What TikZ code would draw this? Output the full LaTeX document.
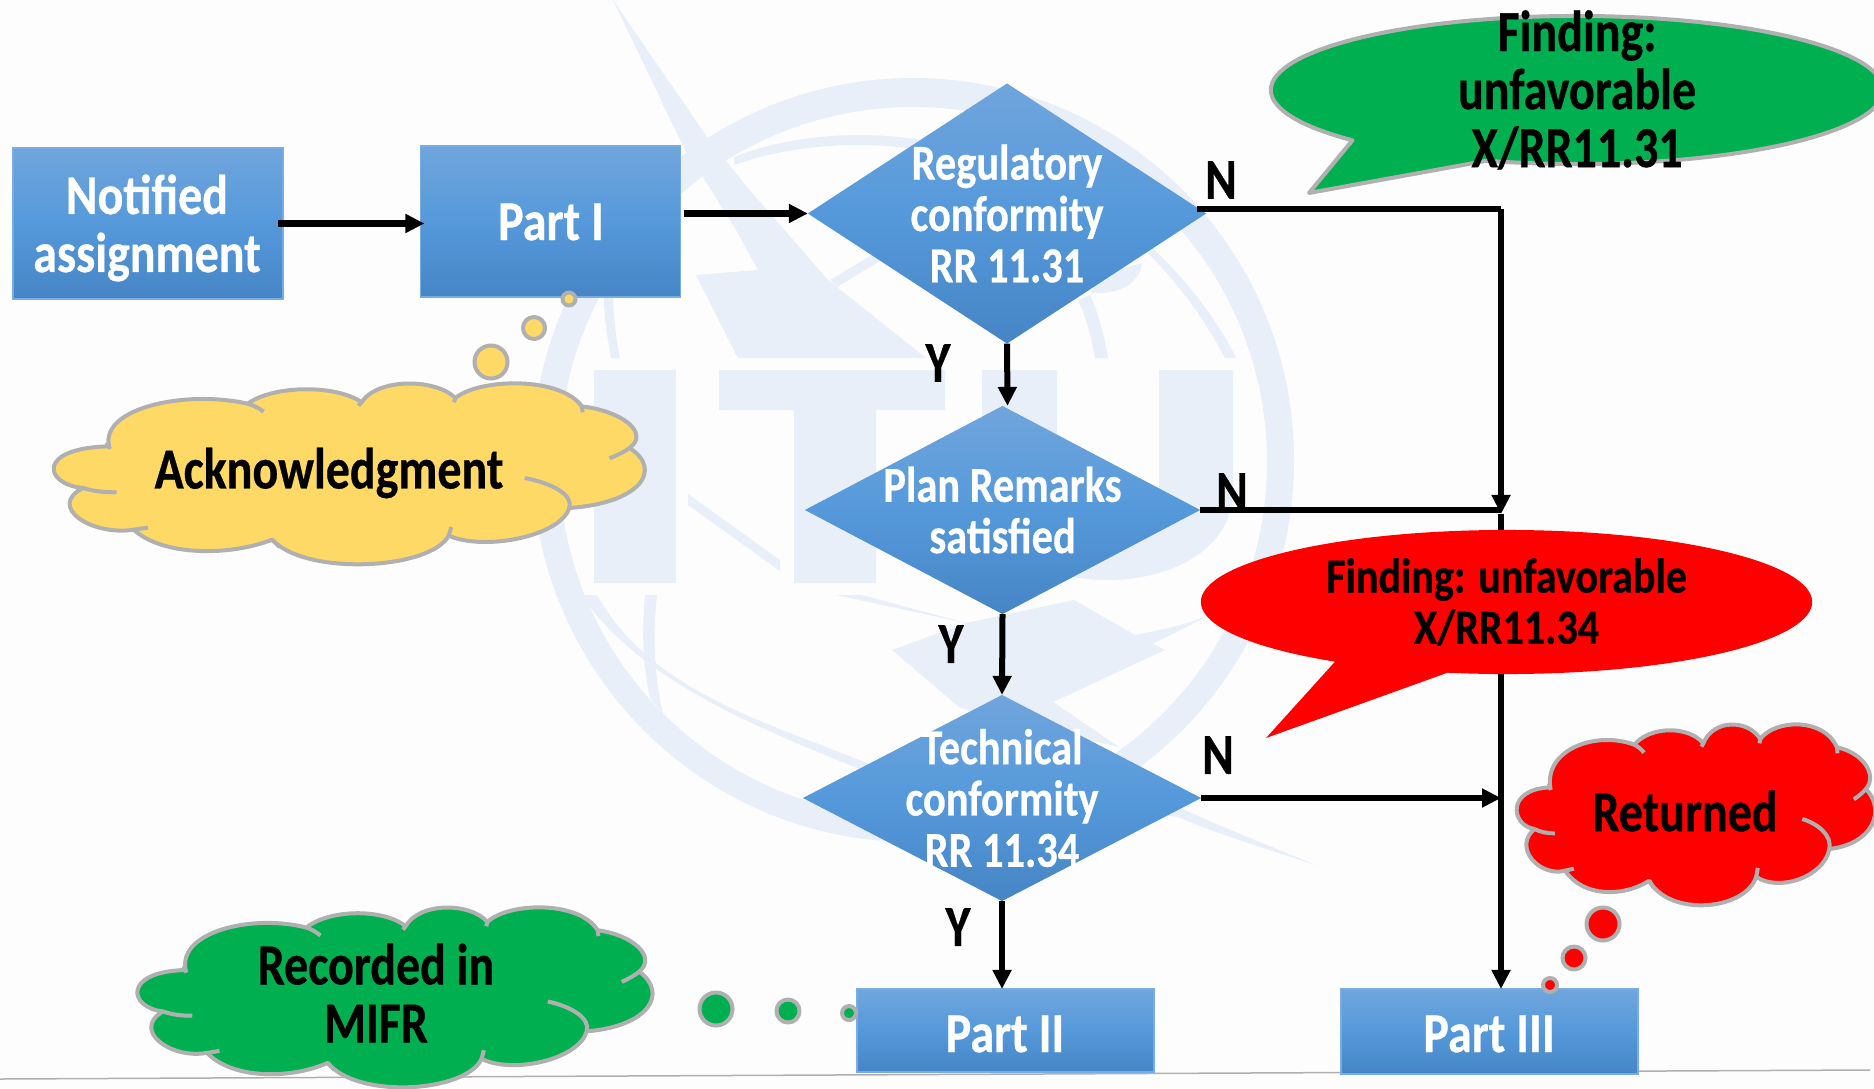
\documentclass[tikz,border=0pt]{standalone}
\usepackage{fontspec}
\setmainfont{Carlito}[BoldFeatures={FakeBold=0.6}]
\usepackage{tikz}
\usetikzlibrary{shapes.geometric, shapes.callouts, arrows.meta}
\definecolor{pagewhite}{HTML}{FDFDFD}
\definecolor{wmblue}{HTML}{E8EFF9}
\definecolor{boxtop}{HTML}{70A5DC}
\definecolor{boxmid}{HTML}{5599DB}
\definecolor{boxbot}{HTML}{4685C5}
\definecolor{edgegrey}{HTML}{B0B0B0}
\definecolor{cloudgold}{HTML}{FFD966}
\definecolor{okgreen}{HTML}{00B050}
\definecolor{badred}{HTML}{FF0000}
\tikzstyle{wmark} = [fill=wmblue]
\tikzstyle{bluefill} = [shading=axis, top color=boxtop, bottom color=boxbot, middle color=boxmid, inner sep=0pt, outer sep=0pt]
\tikzstyle{pbox} = [rectangle, bluefill, draw=boxmid!80!white, line width=0.015cm]
\tikzstyle{qnode} = [diamond, bluefill]
\tikzstyle{line} = [draw, line width=0.06cm]
\tikzstyle{arrow} = [draw, line width=0.06cm, -{Triangle[length=0.19cm, width=0.18cm]}]
\tikzstyle{bigwhite} = [text=white, align=center, transform shape, yscale=1.17, font=\bfseries\fontsize{13.65pt}{14.1pt}\selectfont]
\tikzstyle{smallwhite} = [text=white, align=center, transform shape, yscale=1.186, font=\bfseries\fontsize{12.05pt}{12.3pt}\selectfont]
\tikzstyle{bigblack} = [text=black, align=center, transform shape, yscale=1.21, font=\bfseries\fontsize{13.64pt}{13.64pt}\selectfont]
\tikzstyle{smallblack} = [text=black, align=center, transform shape, yscale=1.163, font=\bfseries\fontsize{11.96pt}{12.5pt}\selectfont]
\tikzstyle{yn} = [bigblack, inner sep=0pt]
\tikzstyle{cloudline} = [draw=edgegrey, line width=0.04cm, line join=round]
\tikzstyle{dot} = [ellipse, cloudline, inner sep=0pt, outer sep=0pt]
\tikzset{cloudpic/.pic={
	\path [pic actions] (72,315) .. controls (-15,305) and (-35,195) .. (130,190)
		.. controls (110,75) and (300,20) .. (440,62)
		.. controls (500,5) and (640,5) .. (695,58)
		.. controls (730,-15) and (860,-15) .. (905,45)
		.. controls (960,-15) and (1140,-20) .. (1188,70)
		.. controls (1280,85) and (1340,150) .. (1295,195)
		.. controls (1370,260) and (1320,360) .. (1160,375)
		.. controls (1140,460) and (970,505) .. (890,458)
		.. controls (850,560) and (570,580) .. (495,470)
		.. controls (400,520) and (250,520) .. (185,440)
		.. controls (90,460) and (-10,370) .. (72,315) -- cycle;
	\path [pic actions, fill=none] (72,315) .. controls (95,325) and (120,328) .. (147,328);
	\path [pic actions, fill=none] (125,178) -- (132,198);
	\path [pic actions, fill=none] (440,62) .. controls (455,68) and (465,75) .. (476,86);
	\path [pic actions, fill=none] (695,58) -- (688,68);
	\path [pic actions, fill=none] (905,45) -- (902,58);
	\path [pic actions, fill=none] (1188,70) -- (1190,88);
	\path [pic actions, fill=none] (1295,195) .. controls (1285,205) and (1265,218) .. (1250,226);
	\path [pic actions, fill=none] (1160,375) .. controls (1170,335) and (1120,300) .. (1060,285);
	\path [pic actions, fill=none] (890,458) -- (896,432);
	\path [pic actions, fill=none] (495,470) -- (512,492);
	\path [pic actions, fill=none] (185,440) -- (217,434);
}}

\begin{document}
\begin{tikzpicture}[x=0.01cm, y=-0.01cm]
	\useasboundingbox (0,0) rectangle (1874,1088);
	\clip (0,0) rectangle (1874,1088);
	\fill [pagewhite] (0,0) rectangle (1874,1088);

	% watermark
	\fill [wmark, even odd rule] (913,460) ellipse [x radius=381, y radius=382] (913,462) ellipse [x radius=354, y radius=355];
	\fill [wmark] (594,370) rectangle (676,583);
	\fill [wmark] (719,370) -- (945,370) -- (945,410) -- (876,410) -- (876,583) -- (794,583) -- (794,410) -- (719,410) -- cycle;
	\fill [wmark] (982,370) -- (1057,370) -- (1057,500) .. controls (1057,565) and (1159,565) .. (1159,500) -- (1159,370) -- (1233,370) -- (1233,490) .. controls (1233,610) and (982,610) .. (982,490) -- cycle;
	\fill [wmark] (613,0) -- (707,137) -- (747,187) -- (828,280) -- (926,358) -- (738,358) -- (696,275) -- (758,270) -- (736,230) -- (703,177) -- (685,150) -- cycle;
	\fill [wmark] (734,157) .. controls (790,135) and (860,130) .. (921,140) -- (921,150) .. controls (860,140) and (790,145) .. (734,165) -- cycle;
	\fill [wmark] (830,280) -- (877,252) -- (885,258) -- (837,287) -- cycle;
	\fill [wmark] (1078,300) .. controls (1087,320) and (1092,340) .. (1095,358) -- (1108,358) .. controls (1104,335) and (1099,315) .. (1090,295) -- cycle;
	\fill [wmark] (1145,250) .. controls (1180,285) and (1205,320) .. (1225,358) -- (1236,358) .. controls (1215,315) and (1185,280) .. (1150,245) -- cycle;
	\fill [wmark] (1142,263) .. controls (1140,285) and (1115,295) .. (1091,293) -- (1100,275) -- cycle;
	\fill [wmark] (604,297) .. controls (604,320) and (608,340) .. (611,358) -- (620,358) .. controls (616,340) and (614,320) .. (613,297) -- cycle;
	\fill [wmark] (688,494) -- (780,560) -- (780,571) -- (688,505) -- cycle;
	\fill [wmark] (892,650) -- (966,623) -- (1074,600) -- (1135,635) -- (1165,650) -- (1053,702) -- (1119,747) -- (1000,720) -- (959,707) -- cycle;
	\fill [wmark] (836,595) -- (862,595) -- (966,623) -- cycle;
	\fill [wmark] (1135,635) .. controls (1160,630) and (1185,625) .. (1204,617) -- (1240,600) -- (1150,645) -- cycle;
	\fill [wmark] (645,595) -- (657,595) .. controls (652,640) and (655,680) .. (663,713) -- (650,698) .. controls (642,660) and (642,630) .. (645,595) -- cycle;
	\fill [wmark] (597,595) .. controls (650,690) and (760,720) .. (867,763) -- (1178,807) .. controls (1240,835) and (1280,850) .. (1316,865) .. controls (1270,850) and (1220,835) .. (1178,817) -- (867,772) .. controls (750,725) and (640,680) .. (581,595) -- cycle;

	% baseline
	\path [draw=edgegrey, line width=0.015cm] (0,1079) -- (1870,1070);

	% boxes
	\node [pbox, minimum width=2.70cm, minimum height=1.51cm] (notified) at (148,223.5) {};
	\node [pbox, minimum width=2.60cm, minimum height=1.51cm] (part1) at (550.5,221.5) {};
	\node [pbox, minimum width=2.97cm, minimum height=0.83cm] (part2) at (1005.5,1030.5) {};
	\node [pbox, minimum width=2.97cm, minimum height=0.85cm] (part3) at (1489.5,1031.5) {};
	\node [bigwhite] (notifiedtext) at (147,228) {Notified\\assignment};
	\node [bigwhite] (part1text) at (551,222) {Part I};
	\node [bigwhite] (part2text) at (1005,1034) {Part II};
	\node [bigwhite] (part3text) at (1489,1034) {Part III};

	% questions
	\node [qnode, minimum width=3.98cm, minimum height=2.60cm, label={[smallwhite]center:Regulatory\\conformity\\RR 11.31}] (regul) at (1007,213.5) {};
	\node [qnode, minimum width=3.95cm, minimum height=2.08cm, label={[smallwhite]center:Plan Remarks\\satisfied}] (plan) at (1002.5,510) {};
	\node [qnode, minimum width=3.98cm, minimum height=2.06cm, label={[smallwhite]center:Technical\\conformity\\RR 11.34}] (tech) at (1002,798) {};

	% turns of the right hand line
	\coordinate (out1) at (1197,209);
	\coordinate (turn1) at (1501,209);
	\coordinate (join1) at (1501,514);

	\path [arrow] ([xshift=-0.05cm]notified.east) -- ([xshift=0.04cm]part1.west |- notified.east);
	\path [arrow] ([xshift=0.03cm]part1.east |- regul.west) -- (regul.west);
	\path [arrow] (regul.south) -- ([xshift=0.05cm]plan.north);
	\path [arrow] (plan.south) -- (tech.north);
	\path [arrow] (tech.south) -- (tech.south |- part2.north);
	\path [line] (out1) -- (turn1);
	\path [arrow] (turn1) -- (join1);
	\path [line] (plan.east) -- (plan.east -| turn1);
	\path [arrow] (tech.east) -- (tech.east -| turn1);
	\path [arrow] (join1) -- (join1 |- part3.north);

	\node [yn] (n1) at (1221,180) {N};
	\node [yn] (n2) at (1232,492) {N};
	\node [yn] (n3) at (1218,755) {N};
	\node [yn] (y1) at (938,363) {Y};
	\node [yn] (y2) at (951,644) {Y};
	\node [yn] (y3) at (958,927) {Y};

	% speech bubbles
	\node [ellipse callout, callout absolute pointer={(1309,193)}, callout pointer arc=30, cloudline, fill=okgreen, minimum width=6.12cm, minimum height=1.48cm, inner sep=0pt, outer sep=0pt, label={[bigblack]center:Finding:\\unfavorable\\X/RR11.31}] (findgreen) at (1577,90) {};
	\node [ellipse callout, callout absolute pointer={(1266,738)}, callout pointer arc=23, fill=badred, minimum width=6.11cm, minimum height=1.44cm, inner sep=0pt, outer sep=0pt, label={[smallblack]center:Finding: unfavorable\\X/RR11.34}] (findred) at (1506.5,602) {};

	% clouds
	\pic [cloudline, fill=cloudgold, xscale=0.4468, yscale=0.3333] at (51,383) {cloudpic};
	\pic [cloudline, fill=okgreen, xscale=0.3894, yscale=0.3315] at (135,907) {cloudpic};
	\pic [cloudline, fill=badred, xscale=0.271, yscale=0.3333] at (1515,724) {cloudpic};
	\node [bigblack] (ack) at (329,473) {Acknowledgment};
	\node [bigblack] (mifr) at (376,993) {Recorded in\\MIFR};
	\node [bigblack] (ret) at (1685,811) {Returned};

	\node [dot, fill=cloudgold, minimum width=0.33cm, minimum height=0.33cm] (ack1) at (491,362) {};
	\node [dot, fill=cloudgold, minimum width=0.22cm, minimum height=0.22cm] (ack2) at (534,328) {};
	\node [dot, fill=cloudgold, minimum width=0.13cm, minimum height=0.13cm] (ack3) at (569,299) {};
	\node [dot, fill=okgreen, minimum width=0.33cm, minimum height=0.33cm] (mifr1) at (716,1009) {};
	\node [dot, fill=okgreen, minimum width=0.23cm, minimum height=0.23cm] (mifr2) at (788,1011) {};
	\node [dot, fill=okgreen, minimum width=0.14cm, minimum height=0.14cm] (mifr3) at (849,1013) {};
	\node [dot, fill=badred, minimum width=0.33cm, minimum height=0.33cm] (ret1) at (1603,924) {};
	\node [dot, fill=badred, minimum width=0.23cm, minimum height=0.23cm] (ret2) at (1574,958) {};
	\node [dot, fill=badred, minimum width=0.14cm, minimum height=0.14cm] (ret3) at (1550,985) {};
\end{tikzpicture}
\end{document}
